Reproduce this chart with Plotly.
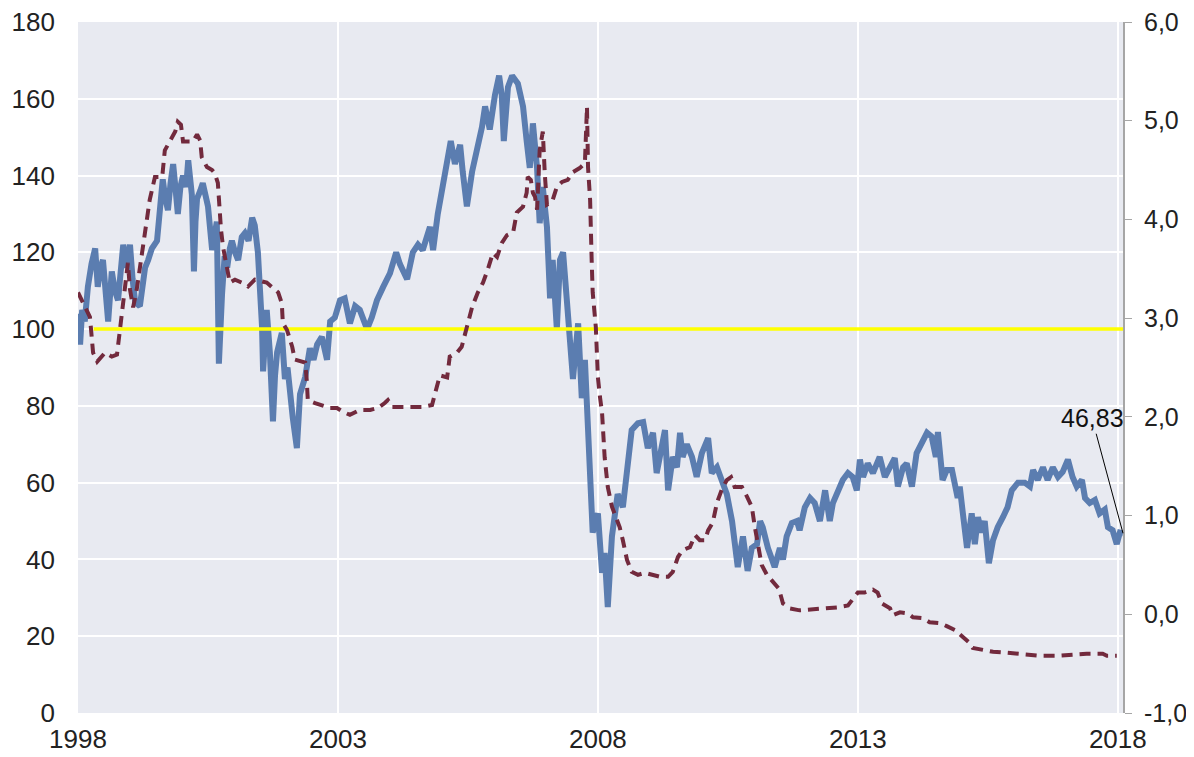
import plotly.graph_objects as go

# index series (left axis), decimal years
idx_year = [
    1998.00, 1998.02, 1998.04, 1998.08, 1998.13, 1998.17, 1998.19, 1998.26, 1998.33, 1998.38,
    1998.43, 1998.48, 1998.53, 1998.58, 1998.65, 1998.71, 1998.77, 1998.82, 1998.87, 1998.94,
    1999.00, 1999.05, 1999.10, 1999.19, 1999.24, 1999.29, 1999.35, 1999.42, 1999.52, 1999.58,
    1999.63, 1999.68, 1999.73, 1999.78, 1999.83, 1999.88, 1999.92, 1999.97, 2000.02, 2000.08,
    2000.12, 2000.19, 2000.23, 2000.26, 2000.29, 2000.35, 2000.40, 2000.45, 2000.50, 2000.58,
    2000.63, 2000.67, 2000.71, 2000.74, 2000.77, 2000.82, 2000.87, 2000.92, 2000.96, 2001.02,
    2001.08, 2001.15, 2001.21, 2001.28, 2001.35, 2001.40, 2001.46, 2001.54, 2001.56, 2001.60,
    2001.63, 2001.69, 2001.75, 2001.79, 2001.83, 2001.92, 2001.98, 2002.03, 2002.08, 2002.13,
    2002.21, 2002.24, 2002.27, 2002.37, 2002.46, 2002.53, 2002.60, 2002.69, 2002.79, 2002.85,
    2002.94, 2003.04, 2003.13, 2003.23, 2003.33, 2003.42, 2003.50, 2003.56, 2003.65, 2003.75,
    2003.87, 2004.00, 2004.12, 2004.19, 2004.33, 2004.44, 2004.54, 2004.63, 2004.77, 2004.80,
    2004.83, 2004.92, 2005.02, 2005.12, 2005.17, 2005.25, 2005.35, 2005.40, 2005.44, 2005.48,
    2005.58, 2005.67, 2005.77, 2005.83, 2005.92, 2006.02, 2006.10, 2006.15, 2006.19, 2006.27,
    2006.35, 2006.46, 2006.56, 2006.63, 2006.69, 2006.75, 2006.83, 2006.88, 2006.94, 2007.02,
    2007.06, 2007.08, 2007.13, 2007.21, 2007.27, 2007.33, 2007.40, 2007.46, 2007.52, 2007.62,
    2007.69, 2007.75, 2007.81, 2007.85, 2007.90, 2008.00, 2008.08, 2008.13, 2008.19, 2008.27,
    2008.33, 2008.38, 2008.48, 2008.56, 2008.65, 2008.77, 2008.87, 2008.96, 2009.06, 2009.13,
    2009.23, 2009.29, 2009.35, 2009.44, 2009.52, 2009.58, 2009.63, 2009.71, 2009.81, 2009.90,
    2010.00, 2010.12, 2010.19, 2010.29, 2010.38, 2010.48, 2010.58, 2010.63, 2010.69, 2010.79,
    2010.88, 2010.96, 2011.06, 2011.12, 2011.17, 2011.27, 2011.40, 2011.50, 2011.56, 2011.63,
    2011.73, 2011.83, 2011.88, 2011.98, 2012.08, 2012.17, 2012.27, 2012.37, 2012.46, 2012.52,
    2012.62, 2012.71, 2012.81, 2012.90, 2012.98, 2013.04, 2013.10, 2013.19, 2013.29, 2013.42,
    2013.52, 2013.62, 2013.71, 2013.77, 2013.87, 2013.94, 2014.04, 2014.13, 2014.23, 2014.33,
    2014.42, 2014.50, 2014.54, 2014.63, 2014.71, 2014.81, 2014.92, 2014.96, 2015.02, 2015.10,
    2015.19, 2015.25, 2015.31, 2015.38, 2015.44, 2015.52, 2015.60, 2015.69, 2015.79, 2015.88,
    2015.96, 2016.08, 2016.21, 2016.31, 2016.37, 2016.46, 2016.56, 2016.65, 2016.75, 2016.85,
    2016.94, 2017.04, 2017.13, 2017.21, 2017.31, 2017.37, 2017.46, 2017.56, 2017.65, 2017.75,
    2017.81, 2017.90, 2017.98, 2018.04, 2018.10,
]
idx_value = [
    104, 97, 96, 105, 102, 108, 111, 117, 121, 111,
    116, 118, 110, 102, 115, 110, 107.5, 114, 122, 116,
    122, 113, 107, 106, 110, 116, 118, 121, 123, 132,
    139, 134, 131, 138, 143, 136, 130, 137, 140, 137,
    144, 135, 115, 128, 134, 136, 138, 135, 132, 120.6,
    125, 128, 91, 104, 109, 119, 116, 121, 123, 120,
    118, 124, 125, 123, 129, 127, 120, 100.6, 89, 98,
    105, 94, 76, 88, 94, 99, 87, 90, 83, 77,
    69, 80, 83, 87.5, 95, 92, 96, 98, 92, 102,
    103, 107.5, 108, 101.5, 106, 105, 102, 100, 103, 107.5,
    111, 114.5, 120, 117, 113, 120, 122, 120.6, 126.6, 123,
    120.6, 130, 137, 144, 149, 143, 148, 141, 136, 132,
    141, 146, 152.6, 158, 152, 161, 166, 161, 149, 163,
    166, 164, 158, 149, 142, 153.6, 142, 127.6, 137, 126.6,
    118, 108, 118, 100, 118, 120, 108, 99, 87, 101.5,
    82, 92, 70, 55, 47, 52, 36.5, 41.7, 27.6, 46,
    52, 57, 53.6, 64, 73.7, 75.5, 75.8, 69, 73, 62.5,
    71, 73.7, 58, 66.7, 64, 73, 66.7, 70, 66.7, 61.5,
    67.7, 71.6, 62.5, 64, 60.7, 57, 50, 43, 38, 46,
    37, 43, 44, 50, 48.4, 43, 38, 43, 40, 46,
    49.5, 50, 47.6, 53.6, 56, 54.7, 50, 58, 50, 54.7,
    58, 60.7, 62.5, 61.5, 58, 66, 61.5, 65, 62.5, 66.7,
    61.5, 64, 66.4, 59, 64, 65, 59, 67.7, 70, 73,
    72, 66.7, 73.2, 60.7, 63.3, 63.3, 56, 59, 52, 43,
    52, 44, 51, 47, 50, 39, 45, 48.4, 51, 53.6,
    58, 60, 60, 59, 63.3, 60.7, 64, 60.7, 64, 61.5,
    62.8, 66, 61.5, 59, 60.7, 56, 54.7, 55.5, 52, 53,
    48.4, 47.6, 44, 47, 46.83,
]

# interest rate (right axis)
rate_year = [
    1998.00, 1998.13, 1998.23, 1998.29, 1998.37, 1998.52, 1998.65, 1998.75, 1998.81, 1998.87,
    1998.94, 1998.96, 1999.00, 1999.06, 1999.13, 1999.19, 1999.25, 1999.33, 1999.38, 1999.48,
    1999.62, 1999.67, 1999.77, 1999.87, 1999.92, 1999.98, 2000.02, 2000.12, 2000.21, 2000.29,
    2000.35, 2000.38, 2000.48, 2000.58, 2000.63, 2000.69, 2000.71, 2000.75, 2000.79, 2000.87,
    2000.92, 2001.02, 2001.15, 2001.27, 2001.40, 2001.63, 2001.79, 2001.85, 2001.92, 2001.94,
    2002.02, 2002.12, 2002.17, 2002.27, 2002.37, 2002.40, 2002.42, 2002.56, 2002.69, 2002.85,
    2002.98, 2003.10, 2003.23, 2003.42, 2003.62, 2003.77, 2003.90, 2003.96, 2004.04, 2004.19,
    2004.44, 2004.63, 2004.81, 2004.90, 2004.96, 2005.10, 2005.15, 2005.29, 2005.38, 2005.48,
    2005.58, 2005.69, 2005.79, 2005.88, 2005.98, 2006.06, 2006.15, 2006.25, 2006.37, 2006.44,
    2006.56, 2006.63, 2006.65, 2006.71, 2006.75, 2006.79, 2006.83, 2006.88, 2006.94, 2006.98,
    2007.02, 2007.12, 2007.21, 2007.31, 2007.42, 2007.52, 2007.65, 2007.75, 2007.77, 2007.79,
    2007.81, 2007.85, 2007.88, 2007.90, 2007.96, 2008.00, 2008.04, 2008.08, 2008.13, 2008.19,
    2008.27, 2008.37, 2008.42, 2008.48, 2008.56, 2008.65, 2008.77, 2008.90, 2009.04, 2009.19,
    2009.35, 2009.44, 2009.54, 2009.63, 2009.77, 2009.87, 2009.96, 2010.06, 2010.12, 2010.21,
    2010.29, 2010.38, 2010.48, 2010.56, 2010.63, 2010.77, 2010.87, 2010.96, 2011.02, 2011.08,
    2011.15, 2011.25, 2011.37, 2011.48, 2011.56, 2011.69, 2011.88, 2012.13, 2012.33, 2012.60,
    2012.81, 2012.90, 2013.00, 2013.13, 2013.29, 2013.38, 2013.46, 2013.62, 2013.67, 2013.81,
    2013.96, 2014.06, 2014.25, 2014.38, 2014.58, 2014.71, 2014.87, 2015.02, 2015.15, 2015.21,
    2015.40, 2015.60, 2015.87, 2016.17, 2016.50, 2016.83, 2017.08, 2017.40, 2017.71, 2017.79,
    2017.98,
]
rate_value = [
    3.26, 3.11, 3.01, 2.65, 2.56, 2.65, 2.61, 2.63, 2.91, 3.11,
    3.46, 3.56, 3.29, 3.11, 3.29, 3.52, 3.72, 4.07, 4.20, 4.43,
    4.43, 4.70, 4.80, 4.89, 4.99, 4.96, 4.79, 4.79, 4.79, 4.86,
    4.80, 4.63, 4.53, 4.50, 4.47, 4.37, 4.17, 3.90, 3.72, 3.46,
    3.36, 3.39, 3.36, 3.32, 3.39, 3.36, 3.29, 3.26, 3.15, 2.95,
    2.88, 2.71, 2.58, 2.56, 2.55, 2.37, 2.17, 2.14, 2.12, 2.09,
    2.09, 2.05, 2.02, 2.07, 2.07, 2.09, 2.14, 2.17, 2.10, 2.10,
    2.10, 2.10, 2.12, 2.30, 2.42, 2.40, 2.61, 2.65, 2.71, 2.91,
    3.11, 3.26, 3.36, 3.49, 3.66, 3.62, 3.76, 3.84, 3.87, 4.07,
    4.13, 4.27, 4.43, 4.40, 4.27, 4.23, 4.10, 4.70, 4.89, 4.45,
    4.15, 4.18, 4.33, 4.38, 4.40, 4.48, 4.52, 4.57, 4.94, 5.14,
    4.53, 4.20, 3.59, 3.26, 2.91, 2.40, 2.20, 2.04, 1.59, 1.29,
    1.09, 0.93, 0.88, 0.75, 0.55, 0.43, 0.40, 0.42, 0.40, 0.38,
    0.38, 0.43, 0.58, 0.65, 0.68, 0.80, 0.75, 0.75, 0.85, 0.93,
    1.13, 1.26, 1.36, 1.39, 1.29, 1.29, 1.19, 1.09, 0.88, 0.68,
    0.50, 0.40, 0.33, 0.26, 0.11, 0.06, 0.04, 0.05, 0.06, 0.07,
    0.09, 0.16, 0.22, 0.22, 0.25, 0.22, 0.11, 0.06, -0.01, 0.02,
    0.01, -0.03, -0.04, -0.08, -0.09, -0.12, -0.16, -0.23, -0.29, -0.34,
    -0.36, -0.38, -0.39, -0.40, -0.42, -0.42, -0.41, -0.40, -0.40, -0.42,
    -0.42,
]

# reference level
ref_year = [1998.30, 2018.10]
ref_value = [100, 100]

year_ticks = [1998, 2003, 2008, 2013, 2018]
rate_ticks = [-1, 0, 1, 2, 3, 4, 5, 6]
rate_ticktext = ["-1,0", "0,0", "1,0", "2,0", "3,0", "4,0", "5,0", "6,0"]
last_label = "46,83"

fig = go.Figure()
fig.add_trace(go.Scatter(x=idx_year, y=idx_value, mode="lines",
                         line=dict(color="#5b7db0", width=6)))
fig.add_trace(go.Scatter(x=ref_year, y=ref_value, mode="lines",
                         line=dict(color="#ffff00", width=3.5)))
fig.add_trace(go.Scatter(x=rate_year, y=rate_value, mode="lines", yaxis="y2",
                         line=dict(color="#722a3d", width=4, dash="11px,7px")))

fig.add_annotation(x=idx_year[-1], y=idx_value[-1], text=last_label,
                   showarrow=True, arrowhead=0, arrowwidth=1, arrowcolor="black",
                   ax=-31, ay=-115, font=dict(size=25, color="#111"))

# page body has an 8px margin, so the figure is sized to fit inside it
font = dict(family="Liberation Sans, Arial, sans-serif", size=26, color="#222")
fig.update_layout(
    width=1186, height=749,
    margin=dict(l=70, r=71, t=14, b=44),
    paper_bgcolor="white", plot_bgcolor="#e8eaf1",
    showlegend=False, separators=",.",
    font=font,
    xaxis=dict(range=[1998, 2018.1], tickvals=year_ticks, tickformat="d",
               showgrid=True, gridcolor="white", gridwidth=1.5, automargin=False,
               zeroline=False, showline=False, ticks="", ticklabelstandoff=8,
               ticklabeloverflow="allow"),
    yaxis=dict(range=[0, 180], dtick=20, showgrid=True, gridcolor="white",
               gridwidth=2, zeroline=False, showline=False, ticks="",
               automargin=False, ticklabelstandoff=22, ticklabeloverflow="allow"),
    yaxis2=dict(range=[-1, 6], tickvals=rate_ticks, ticktext=rate_ticktext,
                overlaying="y", side="right", showgrid=False, zeroline=False,
                showline=True, linecolor="#a6a6a6", linewidth=2, automargin=False,
                ticks="outside", tickcolor="#a6a6a6", ticklen=7,
                tickfont=dict(size=25), ticklabelstandoff=7,
                ticklabeloverflow="allow"),
)

fig.write_html("out.html")
